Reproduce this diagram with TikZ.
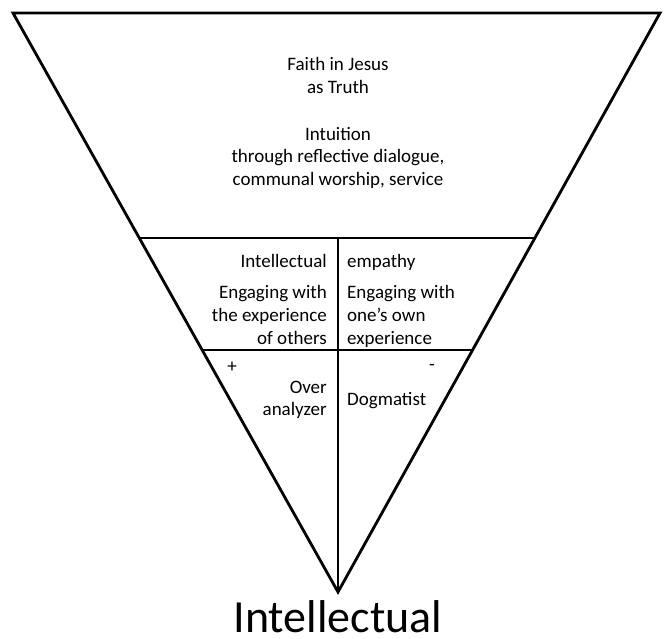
\documentclass[tikz,border=0pt]{standalone}
\usepackage{fontspec}
\setmainfont{Carlito}
\usetikzlibrary{calc,positioning}
\tikzset{
  funnel/.style={draw=black, line width=2.8pt, line join=miter},
  rule/.style={draw=black, line width=2.3pt},
  txt/.style={inner sep=0pt, font=\fontsize{19}{23}\selectfont},
  topcell/.style={txt, align=center, anchor=base},
  lcell/.style={txt, align=right, anchor=base east},
  rcell/.style={txt, align=left, anchor=base west},
}

\begin{document}
\begin{tikzpicture}[x=1pt,y=-1pt]
  \useasboundingbox (0,0) rectangle (666,638);
  % funnel
  \coordinate (tl) at (13,13);
  \coordinate (tr) at (660,13);
  \coordinate (apex) at (338,592);
  \draw[funnel] (tl) -- (tr) -- (apex) -- cycle;
  % dividers
  \coordinate (al) at ($(tl)!0.389!(apex)$);
  \coordinate (ar) at ($(tr)!0.389!(apex)$);
  \coordinate (bl) at ($(tl)!0.582!(apex)$);
  \coordinate (br) at ($(tr)!0.582!(apex)$);
  \draw[rule] (al) -- (ar);
  \draw[rule] (bl) -- (br);
  \draw[rule] (apex |- al) -- (apex);
  % top cell (base = last line)
  \node[topcell] (faith) at (338,93) {Faith in Jesus\\as Truth};
  \node[topcell, font=\fontsize{19}{22.5}\selectfont] (intuition) at (338,185)
    {Intuition\\through reflective dialogue,\\communal worship, service};
  % middle cells
  \node[lcell] (intel) at (327,267) {Intellectual};
  \node[rcell] (empathy) at (347,267) {empathy};
  \node[lcell] (others) at (327,344) {Engaging with\\the experience\\of others};
  \node[rcell] (own) at (347,344) {Engaging with\\one’s own\\experience};
  % lower cells
  \node[txt] (plus) at (232,367) {+};
  \node[txt] (minus) at (432,367) {-};
  \node[lcell, font=\fontsize{19}{22}\selectfont] (over) at (327,415) {Over\\analyzer};
  \node[rcell] (dogma) at (347,405) {Dogmatist};
  % caption
  \node[inner sep=0pt, text depth=0pt, anchor=base, font=\fontsize{46}{50}\selectfont] (caption) at (338,632) {Intellectual};
\end{tikzpicture}
\end{document}
